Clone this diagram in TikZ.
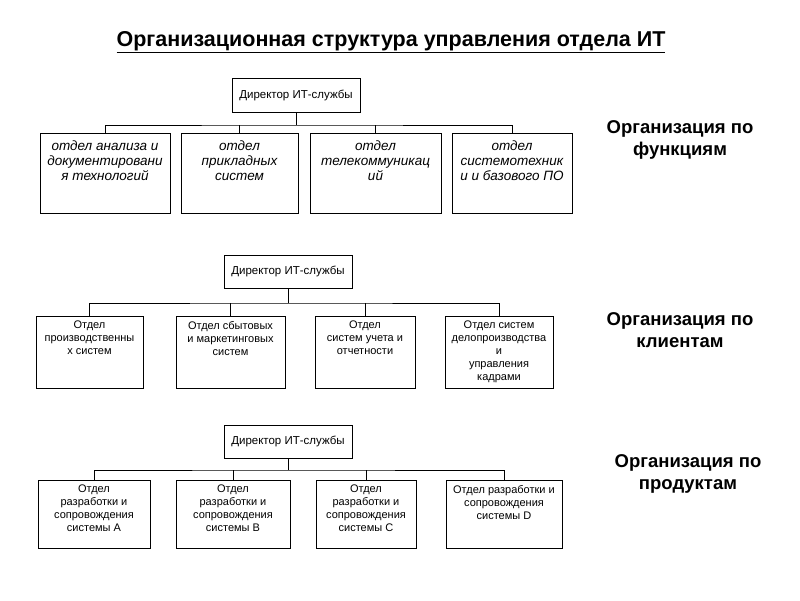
\documentclass[tikz,border=0pt]{standalone}
\usepackage{fontspec}
\setmainfont{Liberation Sans}
\begin{document}
\begin{tikzpicture}[x=1pt,y=-1pt,
 bx/.style={draw,fill=white,inner sep=0pt,anchor=north},
 dir/.style={draw,fill=white,align=center,inner sep=1pt,font=\fontsize{11.5}{13}\selectfont},
 ft/.style={anchor=north,align=center,inner sep=0pt,font=\fontsize{13.5}{15}\selectfont\itshape},
 st/.style={anchor=north,align=center,inner sep=0pt,font=\fontsize{11}{13}\selectfont},
 lab/.style={align=center,font=\fontsize{18.5}{22}\selectfont\bfseries}]
\useasboundingbox (0,0) rectangle (800,600);
\node[font=\fontsize{21.5}{25}\selectfont\bfseries] (t) at (391,42) {\underline{Организационная структура управления отдела ИТ}};
% block 1
\node[dir,minimum width=128,minimum height=34] (d1) at (296,95) {Директор ИТ-службы};
\node[bx,minimum width=130,minimum height=80] (a1) at (105,133) {};
\node[bx,minimum width=117,minimum height=80] (a2) at (239.5,133) {};
\node[bx,minimum width=131,minimum height=80] (a3) at (375.5,133) {};
\node[bx,minimum width=120,minimum height=80] (a4) at (512,133) {};
\node[ft] (ta1) at ([yshift=-8]a1.north) {отдел анализа и\\документировани\\я технологий};
\node[ft] (ta2) at ([yshift=-8]a2.north) {отдел\\прикладных\\систем};
\node[ft] (ta3) at ([yshift=-8]a3.north) {отдел\\телекоммуникац\\ий};
\node[ft] (ta4) at ([yshift=-8]a4.north) {отдел\\системотехник\\и и базового ПО};
\coordinate (j1) at (296,125);
\draw (d1.south) -- (j1);
\draw (a1.north) |- (j1) -| (a4.north);
\draw (a2.north) -- (a2.north |- j1);
\draw (a3.north) -- (a3.north |- j1);
\node[lab] (l1) at (680,140) {Организация по\\функциям};
% block 2
\node[dir,minimum width=128,minimum height=33] (d2) at (288,271.5) {Директор ИТ-службы};
\node[bx,minimum width=107,minimum height=72] (b1) at (89.5,316) {};
\node[bx,minimum width=109,minimum height=72] (b2) at (230.5,316) {};
\node[bx,minimum width=100,minimum height=72] (b3) at (365,316) {};
\node[bx,minimum width=108,minimum height=72] (b4) at (499,316) {};
\node[st] (tb1) at ([yshift=-5]b1.north) {Отдел\\производственны\\х систем};
\node[st] (tb2) at ([yshift=-5]b2.north) {Отдел сбытовых\\и маркетинговых\\систем};
\node[st] (tb3) at ([yshift=-5]b3.north) {Отдел\\систем учета и\\отчетности};
\node[st] (tb4) at ([yshift=-5]b4.north) {Отдел систем\\делопроизводства\\и\\управления\\кадрами};
\coordinate (j2) at (288,303);
\draw (d2.south) -- (j2);
\draw (b1.north) |- (j2) -| (b4.north);
\draw (b2.north) -- (b2.north |- j2);
\draw (b3.north) -- (b3.north |- j2);
\node[lab] (l2) at (680,330) {Организация по\\клиентам};
% block 3
\node[dir,minimum width=128,minimum height=33] (d3) at (288,441.5) {Директор ИТ-службы};
\node[bx,minimum width=112,minimum height=68] (c1) at (94,480) {};
\node[bx,minimum width=114,minimum height=68] (c2) at (233,480) {};
\node[bx,minimum width=100,minimum height=68] (c3) at (366,480) {};
\node[bx,minimum width=116,minimum height=68] (c4) at (504,480) {};
\node[st] (tc1) at ([yshift=-5]c1.north) {Отдел\\разработки и\\сопровождения\\системы А};
\node[st] (tc2) at ([yshift=-5]c2.north) {Отдел\\разработки и\\сопровождения\\системы В};
\node[st] (tc3) at ([yshift=-5]c3.north) {Отдел\\разработки и\\сопровождения\\системы С};
\node[st] (tc4) at ([yshift=-5]c4.north) {Отдел разработки и\\сопровождения\\системы D};
\coordinate (j3) at (288,470);
\draw (d3.south) -- (j3);
\draw (c1.north) |- (j3) -| (c4.north);
\draw (c2.north) -- (c2.north |- j3);
\draw (c3.north) -- (c3.north |- j3);
\node[lab] (l3) at (688,474) {Организация по\\продуктам};
\end{tikzpicture}
\end{document}
